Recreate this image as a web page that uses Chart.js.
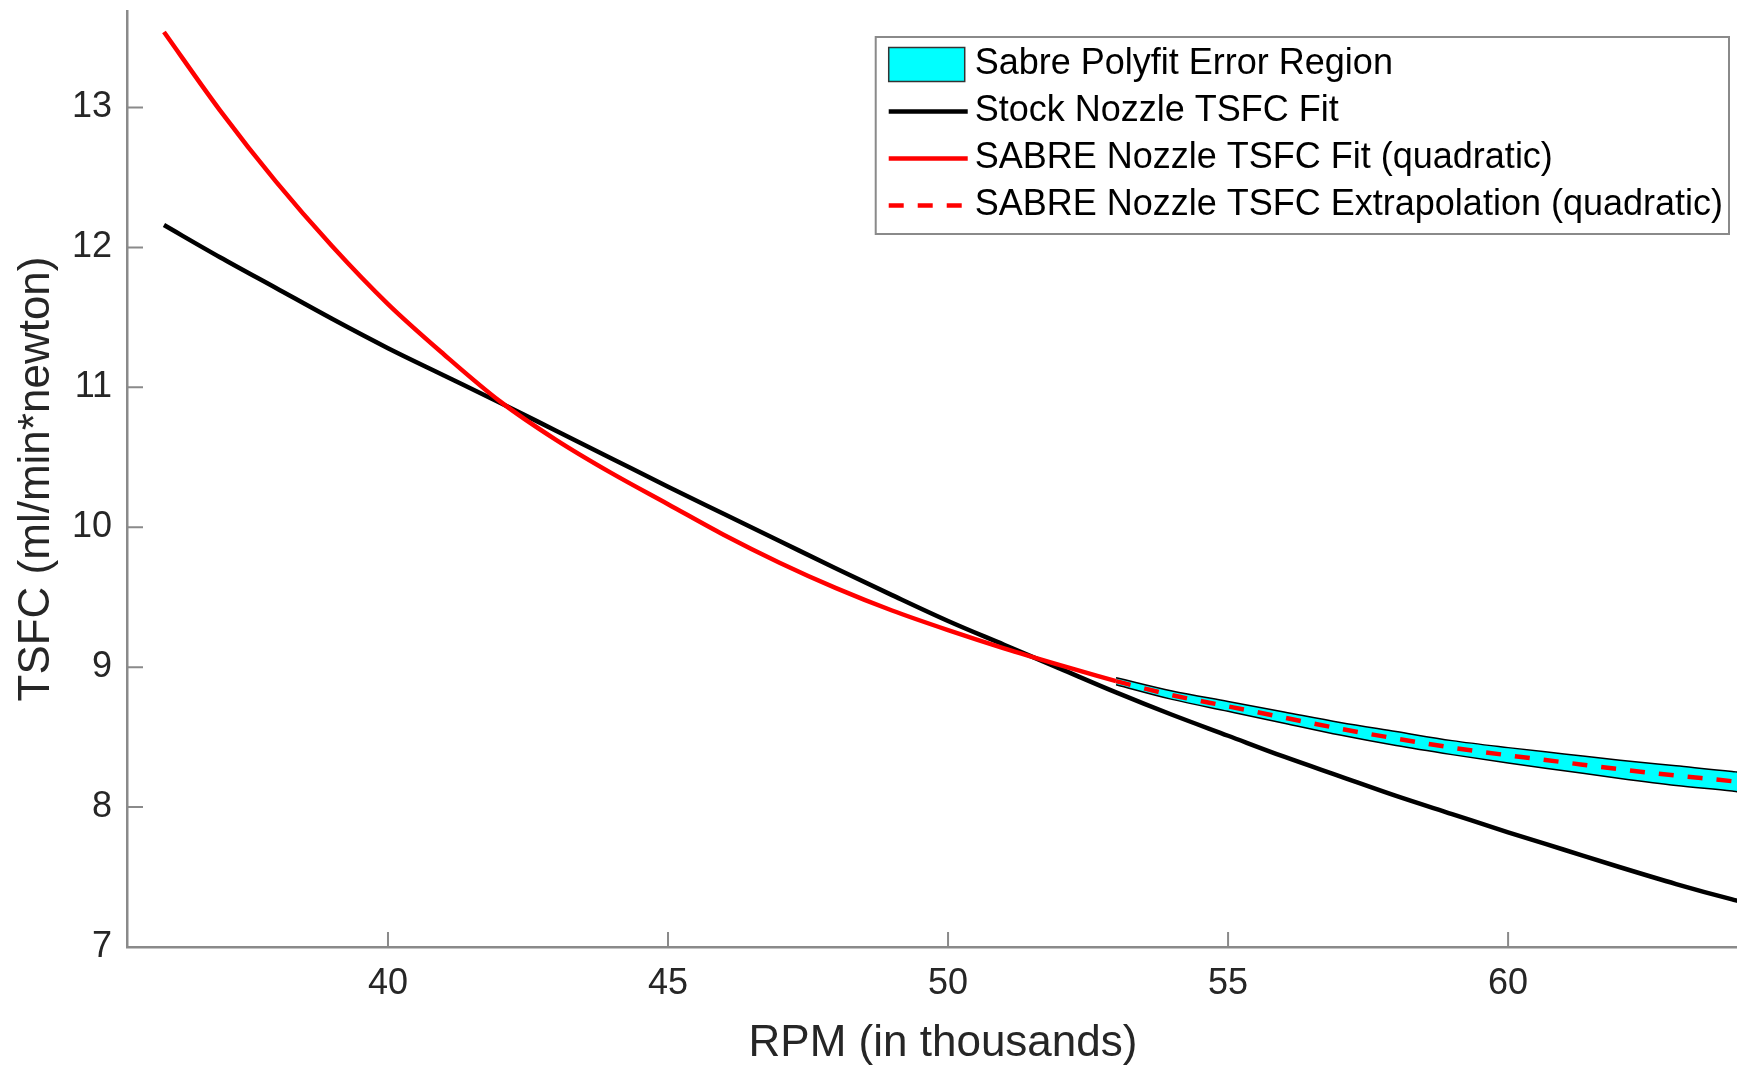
<!DOCTYPE html>
<html lang="en">
<head>
  <meta charset="UTF-8" />
  <title>SABRE Nozzle TSFC</title>
  <script src="https://cdn.jsdelivr.net/npm/chart.js"></script>
  <style>
    html, body {
      margin: 0;
      padding: 0;
      background: #fff;
      overflow: hidden;
    }
    #wrap {
      width: 1760px;
      height: 1065px;
    }
  </style>
</head>
<body>
  <div id="wrap"><canvas id="tsfc" width="1760" height="1065"></canvas></div>

  <script>
    // RPM in thousands, TSFC in ml/min*newton
    const rpmStock = [36, 37, 38, 39, 40, 41, 42, 43, 44, 45, 46, 47, 48, 49, 50, 51, 52, 53, 54, 55, 56, 57, 58, 59, 60, 61, 62, 63, 64, 64.1];
    const stockFit = [12.16, 11.93, 11.71, 11.49, 11.28, 11.085, 10.89, 10.69, 10.49, 10.29, 10.095, 9.90, 9.705, 9.515, 9.33, 9.16, 8.99, 8.82, 8.66, 8.51, 8.36, 8.22, 8.08, 7.95, 7.82, 7.695, 7.57, 7.45, 7.34, 7.33];

    const rpmFit = [36, 37, 38, 39, 40, 41, 42, 43, 44, 45, 46, 47, 48, 49, 50, 51, 52, 53];
    const sabreFit = [13.54, 12.98, 12.47, 12.01, 11.595, 11.235, 10.90, 10.625, 10.385, 10.165, 9.945, 9.745, 9.565, 9.405, 9.265, 9.135, 9.015, 8.90];

    const rpmExt = [53, 54, 55, 56, 57, 58, 59, 60, 61, 62, 63, 64, 64.1];
    const sabreExt = [8.90, 8.80, 8.72, 8.64, 8.56, 8.49, 8.425, 8.37, 8.32, 8.27, 8.225, 8.185, 8.18];
    const bandUpper = [8.925, 8.83, 8.755, 8.68, 8.605, 8.54, 8.475, 8.425, 8.38, 8.335, 8.295, 8.255, 8.25];
    const bandLower = [8.875, 8.77, 8.685, 8.60, 8.515, 8.44, 8.375, 8.315, 8.26, 8.205, 8.155, 8.115, 8.11];

    const rpmTicks = [40, 45, 50, 55, 60];
    const tsfcTicks = [7, 8, 9, 10, 11, 12, 13];

    const FONT = "'Liberation Sans', Arial, Helvetica, sans-serif";
    const AXIS = '#8a8a8a';
    const TEXT = '#262626';

    Chart.defaults.font.family = FONT;
    Chart.defaults.color = TEXT;

    const pts = (xs, ys) => xs.map((x, i) => ({ x, y: ys[i] }));

    // MATLAB style tick marks pointing into the plot
    const innerTicks = {
      id: 'innerTicks',
      afterDraw(chart) {
        const { ctx, chartArea: a, scales: { x, y } } = chart;
        ctx.save();
        ctx.strokeStyle = AXIS;
        ctx.lineWidth = 2;
        ctx.beginPath();
        x.ticks.forEach(t => {
          const px = x.getPixelForValue(t.value);
          ctx.moveTo(px, a.bottom);
          ctx.lineTo(px, a.bottom - 15);
        });
        y.ticks.forEach(t => {
          const py = y.getPixelForValue(t.value);
          ctx.moveTo(a.left, py);
          ctx.lineTo(a.left + 16, py);
        });
        ctx.stroke();
        ctx.restore();
      }
    };

    // boxed legend in the top right corner of the plot area
    const boxLegend = {
      id: 'boxLegend',
      afterDraw(chart) {
        const { ctx, chartArea: a } = chart;
        const items = chart.data.datasets.filter(d => d.inLegend !== false);
        ctx.save();
        ctx.font = '36px ' + FONT;
        const textW = Math.max(...items.map(d => ctx.measureText(d.label).width));
        const rowH = 47;
        const sampleW = 79;
        const w = 13 + sampleW + 7 + textW + 6;
        const h = 197;
        const right = a.right - 30;
        const left = right - w;
        const top = a.top + 26;

        ctx.fillStyle = '#fff';
        ctx.fillRect(left, top, w, h);
        ctx.strokeStyle = AXIS;
        ctx.lineWidth = 2;
        ctx.strokeRect(left, top, w, h);

        items.forEach((d, i) => {
          const cy = top + 27.5 + i * rowH;
          const sx = left + 13;
          if (d.fill) {
            ctx.fillStyle = d.backgroundColor;
            ctx.fillRect(sx, cy - 17, sampleW - 3, 34);
            ctx.strokeStyle = '#333';
            ctx.lineWidth = 1.5;
            ctx.setLineDash([]);
            ctx.strokeRect(sx, cy - 17, sampleW - 3, 34);
          } else {
            ctx.strokeStyle = d.borderColor;
            ctx.lineWidth = d.borderWidth;
            ctx.setLineDash(d.borderDash || []);
            ctx.beginPath();
            ctx.moveTo(sx, cy);
            ctx.lineTo(sx + sampleW, cy);
            ctx.stroke();
          }
          ctx.setLineDash([]);
          ctx.fillStyle = '#000';
          ctx.textBaseline = 'middle';
          ctx.textAlign = 'left';
          ctx.fillText(d.label, sx + sampleW + 7, cy);
        });
        ctx.restore();
      }
    };

    new Chart(document.getElementById('tsfc'), {
      type: 'line',
      data: {
        datasets: [
          {
            label: 'Sabre Polyfit Error Region',
            data: pts(rpmExt, bandUpper),
            borderColor: '#000',
            borderWidth: 1.5,
            backgroundColor: '#00ffff',
            fill: '+1',
            order: 4
          },
          {
            label: 'Sabre Polyfit Error Region (lower)',
            data: pts(rpmExt, bandLower),
            borderColor: '#000',
            borderWidth: 1.5,
            fill: false,
            inLegend: false,
            order: 3
          },
          {
            label: 'Stock Nozzle TSFC Fit',
            data: pts(rpmStock, stockFit),
            borderColor: '#000',
            borderWidth: 4.5,
            fill: false,
            order: 2
          },
          {
            label: 'SABRE Nozzle TSFC Fit (quadratic)',
            data: pts(rpmFit, sabreFit),
            borderColor: '#ff0000',
            borderWidth: 4.5,
            fill: false,
            order: 1
          },
          {
            label: 'SABRE Nozzle TSFC Extrapolation (quadratic)',
            data: pts(rpmExt, sabreExt),
            borderColor: '#ff0000',
            borderWidth: 4.5,
            borderDash: [15, 14],
            fill: false,
            order: 0
          }
        ]
      },
      options: {
        responsive: false,
        animation: false,
        devicePixelRatio: 1,
        layout: { padding: { top: 11, right: 1, left: 0, bottom: 0 } },
        elements: {
          point: { radius: 0 },
          line: { cubicInterpolationMode: 'monotone' }
        },
        plugins: {
          legend: { display: false },
          tooltip: { enabled: false }
        },
        scales: {
          x: {
            type: 'linear',
            min: 35.34,
            max: 64.48,
            border: { display: true, color: AXIS, width: 2.5 },
            grid: { display: false, drawTicks: false },
            ticks: { font: { size: 36 }, padding: 15, color: TEXT },
            afterBuildTicks: s => { s.ticks = rpmTicks.map(v => ({ value: v })); },
            afterFit: s => {
              s.height = 118;
              s.paddingLeft = 0;
              s.paddingRight = 0;
            },
            title: {
              display: true,
              text: 'RPM (in thousands)',
              font: { size: 44 },
              color: TEXT,
              padding: { top: 0, bottom: -5 }
            }
          },
          y: {
            type: 'linear',
            min: 7,
            max: 13.69,
            border: { display: true, color: AXIS, width: 2.5 },
            grid: { display: false, drawTicks: false },
            ticks: { font: { size: 36 }, padding: 15, color: TEXT },
            afterBuildTicks: s => { s.ticks = tsfcTicks.map(v => ({ value: v })); },
            afterFit: s => {
              s.width = 127;
              s.paddingTop = 0;
              s.paddingBottom = 0;
            },
            title: {
              display: true,
              text: 'TSFC (ml/min*newton)',
              font: { size: 44 },
              color: TEXT,
              padding: { top: 10, bottom: 0 }
            }
          }
        }
      },
      plugins: [innerTicks, boxLegend]
    });
  </script>
</body>
</html>
